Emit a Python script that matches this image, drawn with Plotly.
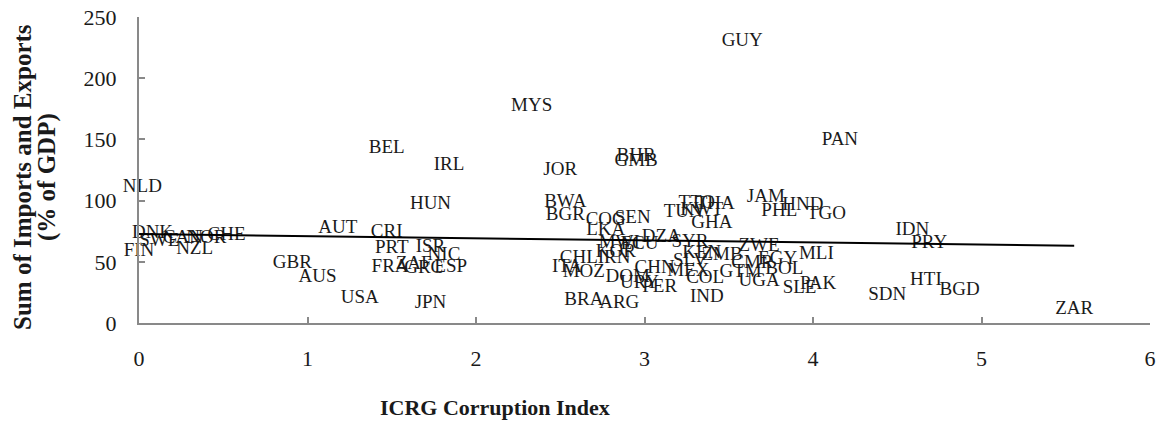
import plotly.graph_objects as go

countries = ["GUY","MYS","BHR","GMB","PAN","BEL","IRL","JOR","NLD","HUN","BWA","BGR","JAM","HND","PHL","TGO",
             "TTO","THA","KWT","TUN","GHA","COG","SEN","LKA","DZA","MWI","ECU","SYR","KOR","CHL","IRN","ITA",
             "MOZ","DOM","URY","PER","CHN","MEX","SLV","KEN","ZMB","COL","IND","GTM","CMR","EGY","BOL","UGA",
             "SLE","PAK","ZWE","MLI","IDN","PRY","HTI","BGD","SDN","ZAR","DNK","SWE","FIN","CAN","NOR","CHE",
             "NZL","AUT","CRI","PRT","ISR","NIC","FRA","ZAF","GRC","ESP","GBR","AUS","USA","JPN","BRA","ARG"]
corruption = [3.58,2.33,2.95,2.95,4.16,1.47,1.84,2.50,0.02,1.73,2.53,2.53,3.72,3.94,3.80,4.08,
              3.31,3.42,3.34,3.23,3.40,2.77,2.93,2.77,3.10,2.85,2.97,3.27,2.83,2.61,2.82,2.54,
              2.64,2.90,2.97,3.09,3.06,3.26,3.27,3.34,3.46,3.36,3.37,3.57,3.64,3.79,3.83,3.68,
              3.92,4.03,3.68,4.02,4.59,4.69,4.67,4.87,4.44,5.55,0.08,0.12,0.00,0.26,0.40,0.52,
              0.33,1.18,1.47,1.50,1.73,1.81,1.49,1.63,1.69,1.85,0.91,1.06,1.31,1.73,2.64,2.85]
trade = [230.4,177.2,136.3,132.2,149.4,142.9,129.0,124.9,111.0,97.1,98.7,88.1,102.8,96.3,91.3,88.9,
         97.9,97.1,92.2,90.5,81.5,84.0,85.6,75.8,70.1,65.2,64.4,66.0,57.8,52.9,52.9,45.6,
         41.5,37.4,32.5,29.2,44.7,42.3,50.5,57.0,55.4,36.6,21.0,41.5,48.8,52.1,43.9,34.1,
         28.4,31.6,62.7,56.2,75.8,65.2,34.9,26.7,22.7,11.2,73.4,66.8,58.6,69.3,69.3,71.7,
         60.3,77.4,74.2,61.1,61.9,55.4,45.6,48.0,44.7,45.6,48.8,37.4,20.2,16.1,18.6,16.1]

trend_intercept = 72.7
trend_slope = -1.72
trend_x = [0.0, max(corruption)]
trend_y = [trend_intercept + trend_slope * v for v in trend_x]

x_ticks = [0, 1, 2, 3, 4, 5, 6]
y_ticks = [0, 50, 100, 150, 200, 250]

x_title = "ICRG Corruption Index"
y_title_lines = ["Sum of Imports and Exports", "(% of GDP)"]

serif = "Liberation Serif, Times New Roman, serif"
axis_color = "#898989"
text_color = "#1a1a1a"

fig = go.Figure()
fig.add_trace(go.Scatter(
    x=corruption, y=trade, mode="text", text=countries,
    textposition="middle center", cliponaxis=False,
    textfont=dict(family=serif, size=19, color=text_color),
    hoverinfo="text", showlegend=False))
fig.add_trace(go.Scatter(
    x=trend_x, y=trend_y, mode="lines", cliponaxis=False,
    line=dict(color="black", width=2), showlegend=False, hoverinfo="skip"))

fig.update_layout(
    width=1163, height=425,
    margin=dict(l=139, r=13, t=17, b=102, autoexpand=False),
    paper_bgcolor="white", plot_bgcolor="white",
    font=dict(family=serif, color=text_color),
)
fig.update_xaxes(
    range=[0, 6], tickvals=x_ticks, showgrid=False, zeroline=False, automargin=False,
    showline=True, linecolor=axis_color, linewidth=2,
    ticks="inside", ticklen=6, tickcolor=axis_color, tickwidth=1.5,
    tickfont=dict(family=serif, size=22, color=text_color),
    ticklabelstandoff=15,
)
fig.update_yaxes(
    range=[0, 250], tickvals=y_ticks, showgrid=False, zeroline=False, automargin=False,
    showline=True, linecolor=axis_color, linewidth=2,
    ticks="inside", ticklen=6, tickcolor=axis_color, tickwidth=1.5,
    tickfont=dict(family=serif, size=22, color=text_color),
    ticklabelstandoff=16,
)
fig.add_annotation(
    text="<b>" + x_title + "</b>", xref="paper", yref="paper",
    x=(495 - 139) / 1011, y=(323 - 408) / 306, xanchor="center", yanchor="middle",
    showarrow=False, font=dict(family=serif, size=22, color=text_color))
for line_text, px_x in zip(y_title_lines, [23, 47]):
    fig.add_annotation(
        text="<b>" + line_text + "</b>", xref="paper", yref="paper", textangle=-90,
        x=(px_x - 139) / 1011, y=(323 - 177) / 306, xanchor="center", yanchor="middle",
        showarrow=False, font=dict(family=serif, size=25, color=text_color))

fig.write_html("out.html", config={"displayModeBar": False})

with open("out.html", "r", encoding="utf-8") as f:
    html = f.read()
html = html.replace("<head>", "<head><style>html,body{margin:0;padding:0;overflow:hidden;}</style>", 1)
with open("out.html", "w", encoding="utf-8") as f:
    f.write(html)
